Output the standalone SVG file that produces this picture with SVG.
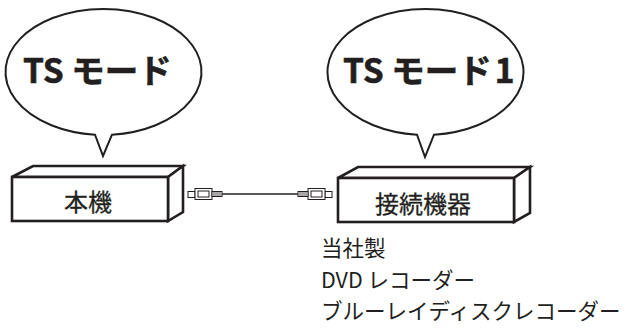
<svg xmlns="http://www.w3.org/2000/svg" width="630" height="334" viewBox="0 0 630 334">
<style>
.bubble{fill:#fff;stroke:#231f20;stroke-width:2}
.box{fill:#fff;stroke:#231f20;stroke-width:2.6;stroke-linejoin:miter}
.bt{font-family:"Noto Sans CJK JP","Noto Sans",sans-serif;font-weight:bold;font-size:33.5px;fill:#231f20;stroke:#231f20;stroke-width:0.6}
.lbl{font-family:"Noto Sans CJK JP","Noto Sans",sans-serif;font-size:24px;fill:#231f20;stroke:#231f20;stroke-width:0.3}
.note{font-family:"Noto Sans CJK JP","Noto Sans",sans-serif;font-size:21.5px;fill:#231f20}
.plug{fill:#fff;stroke:#231f20;stroke-width:1}
</style>
<defs>
<g id="plug">
<rect class="plug" x="0" y="3" width="7" height="6"/>
<rect class="plug" x="7" y="0" width="17" height="11"/>
<rect class="plug" x="10" y="2.5" width="11" height="6"/>
<rect class="plug" x="24" y="3" width="10" height="5"/>
<path d="M26,3v5M28,3v5M30,3v5M32,3v5" stroke="#231f20" stroke-width="0.8"/>
</g>
</defs>
<g id="bubble1">
<path class="bubble" d="M112,134.7 A98,63 0 1 0 95,134.7 L103,156 Z"/>
<text class="bt" x="23" y="83">TS モード</text>
</g>
<g id="bubble2">
<path class="bubble" d="M434,134.7 A98,63 0 1 0 417,134.7 L425,157 Z"/>
<text class="bt" x="343" y="83">TS モード<tspan dx="3">1</tspan></text>
</g>
<g id="honki">
<polygon class="box" points="12,177 33,166 183,166 168,177"/>
<polygon class="box" points="168,177 183,166 183,212 168,221"/>
<rect class="box" x="12" y="177" width="156" height="44"/>
<text class="lbl" x="88" y="211" text-anchor="middle">本機</text>
</g>
<g id="setsuzoku">
<polygon class="box" points="338,178 358,167 530,167 514,178"/>
<polygon class="box" points="514,178 530,167 530,213 514,222"/>
<rect class="box" x="338" y="178" width="176" height="44"/>
<text class="lbl" x="423" y="213" text-anchor="middle">接続機器</text>
</g>
<g id="connectors">
<line x1="222" y1="194" x2="298" y2="194" stroke="#231f20" stroke-width="1.6"/>
<use href="#plug" x="188" y="188.5"/>
<use href="#plug" transform="translate(332,188.5) scale(-1,1)"/>
</g>
<g id="notes">
<text class="note" x="321" y="256">当社製</text>
<text class="note" x="321" y="288">DVD レコーダー</text>
<text class="note" x="321" y="319">ブルーレイディスクレコーダー</text>
</g>
</svg>
